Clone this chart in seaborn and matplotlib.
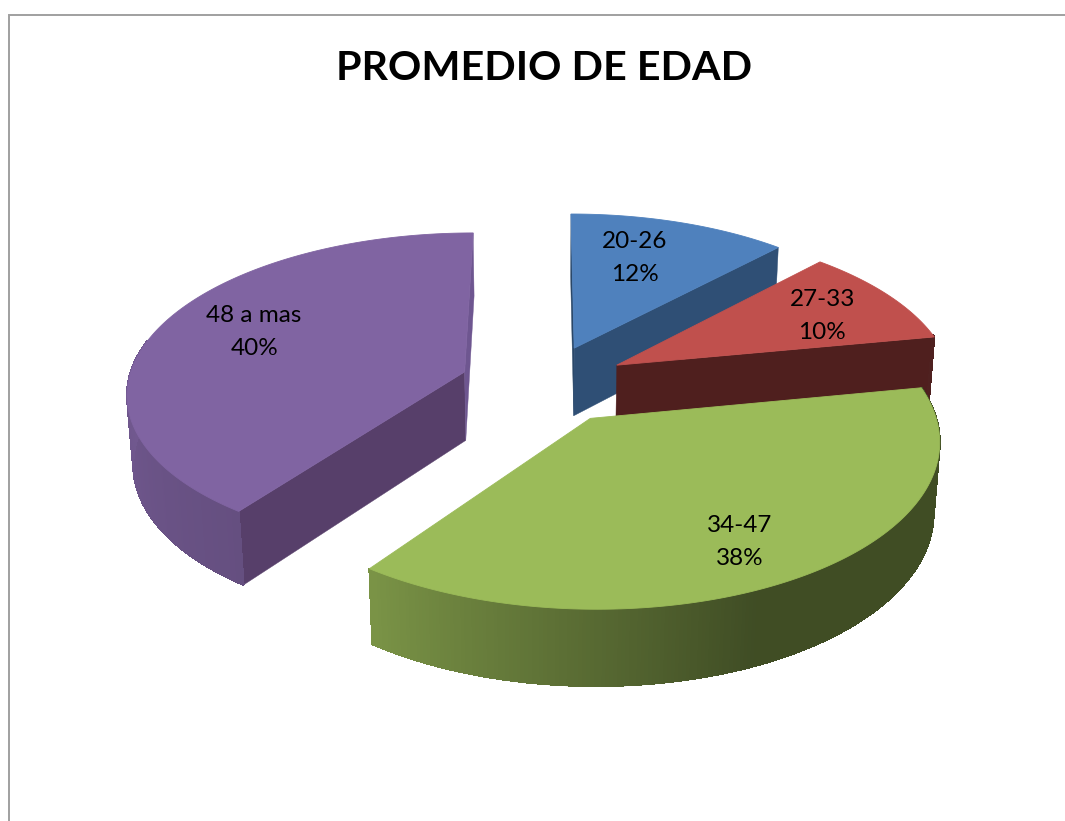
import numpy as np
import seaborn as sns
import matplotlib.pyplot as plt

# chart data
categories = ["20-26", "27-33", "34-47", "48 a mas"]
percents = [12, 10, 38, 40]
title = "PROMEDIO DE EDAD"

# office style colours
top_colors = ["#4F81BD", "#C0504D", "#9BBB59", "#8064A2"]
start_cut_colors = ["#2A4768", "#4F1F1E", "#3F4A20", "#573F6A"]
end_cut_colors = ["#2F4F75", "#4F1F1E", "#3F4A20", "#6E5690"]

# fake 3d camera, all in pixels
CX, CY = 544, 384
RX, RY = 337, 158.6
DEPTH = 70
PERSP_Y, PERSP_Z = 0.1216, 0.015
EXPLODE = 0.25
label_r = [0.68, 0.73, 0.78, 0.71]
label_turn = [-4, 2, 3, 4]

sns.set_theme(style="white")
plt.rcParams["font.family"] = ["Lato", "DejaVu Sans"]


def project(x, y, z):
    s = 1 / (1 - PERSP_Y * y + PERSP_Z * z)
    return CX + RX * x * s, CY + (RY * y + DEPTH * z) * s


def direction(deg):
    rad = np.radians(deg)
    return np.sin(rad), -np.cos(rad)


def shade(deg):
    # outer wall gets lighter towards the left
    return np.interp(deg, [156, 216, 270], [0.41, 0.79, 0.88])


def signed_area(points):
    xs, ys = np.array(points).T
    return np.sum(xs * np.roll(ys, -1) - np.roll(xs, -1) * ys)


fig = plt.figure(figsize=(10.65, 8.21), dpi=100)
ax = fig.add_axes([0, 0, 1, 1])
ax.set_xlim(0, 1065)
ax.set_ylim(821, 0)
ax.axis("off")

# chart frame
ax.plot([9, 9, 1065], [821, 15, 15], color="#A0A0A0", lw=1.4, solid_joinstyle="miter")

ends = np.cumsum(percents) / sum(percents) * 360
starts = ends - np.array(percents) / sum(percents) * 360

for i in range(len(categories)):
    start, end = starts[i], ends[i]
    mid = (start + end) / 2
    ox, oy = direction(mid)
    ox, oy = ox * EXPLODE, oy * EXPLODE
    angles = np.linspace(start, end, 240)
    ux, uy = direction(angles)
    rgb = np.array(sns.color_palette([top_colors[i]])[0])

    # the two cut faces, only the ones turned to the camera
    for a, sign, col in ((start, -1, start_cut_colors[i]), (end, 1, end_cut_colors[i])):
        xa, ya = direction(a)
        p = [project(ox, oy, 0), project(ox + xa, oy + ya, 0),
             project(ox + xa, oy + ya, 1), project(ox, oy, 1)]
        if signed_area(p) * sign > 0:
            ax.fill(*zip(*p), color=col, lw=0.3)

    # outer wall, one thin quad per step, front part only
    for a0, a1 in zip(angles[:-1], angles[1:]):
        xa, ya = direction(a0)
        xb, yb = direction(a1)
        if ya < -0.2 and yb < -0.2:
            continue
        p = [project(ox + xa, oy + ya, 0), project(ox + xb, oy + yb, 0),
             project(ox + xb, oy + yb, 1), project(ox + xa, oy + ya, 1)]
        c = rgb * shade((a0 + a1) / 2)
        ax.fill(*zip(*p), color=c, lw=0.8, antialiased=False)
        # same zorder as the patches so the top face still covers it
        ax.plot([p[2][0], p[3][0]], [p[2][1], p[3][1]], color=c, lw=1, zorder=1)

    # top face
    px, py = project(np.r_[ox, ox + ux], np.r_[oy, oy + uy], 0)
    ax.fill(px, py, color=top_colors[i], lw=0.6)

    lx, ly = direction(mid + label_turn[i])
    tx, ty = project(ox + label_r[i] * lx, oy + label_r[i] * ly, 0)
    ax.text(tx, ty, f"{categories[i]}\n{percents[i]}%", ha="center", va="center",
            fontsize=17.5, color="black", linespacing=1.7)

ax.text(544, 80, title, ha="center", va="baseline", fontsize=29.7, fontweight="bold", color="black")

fig.savefig("out.png", dpi=100)
